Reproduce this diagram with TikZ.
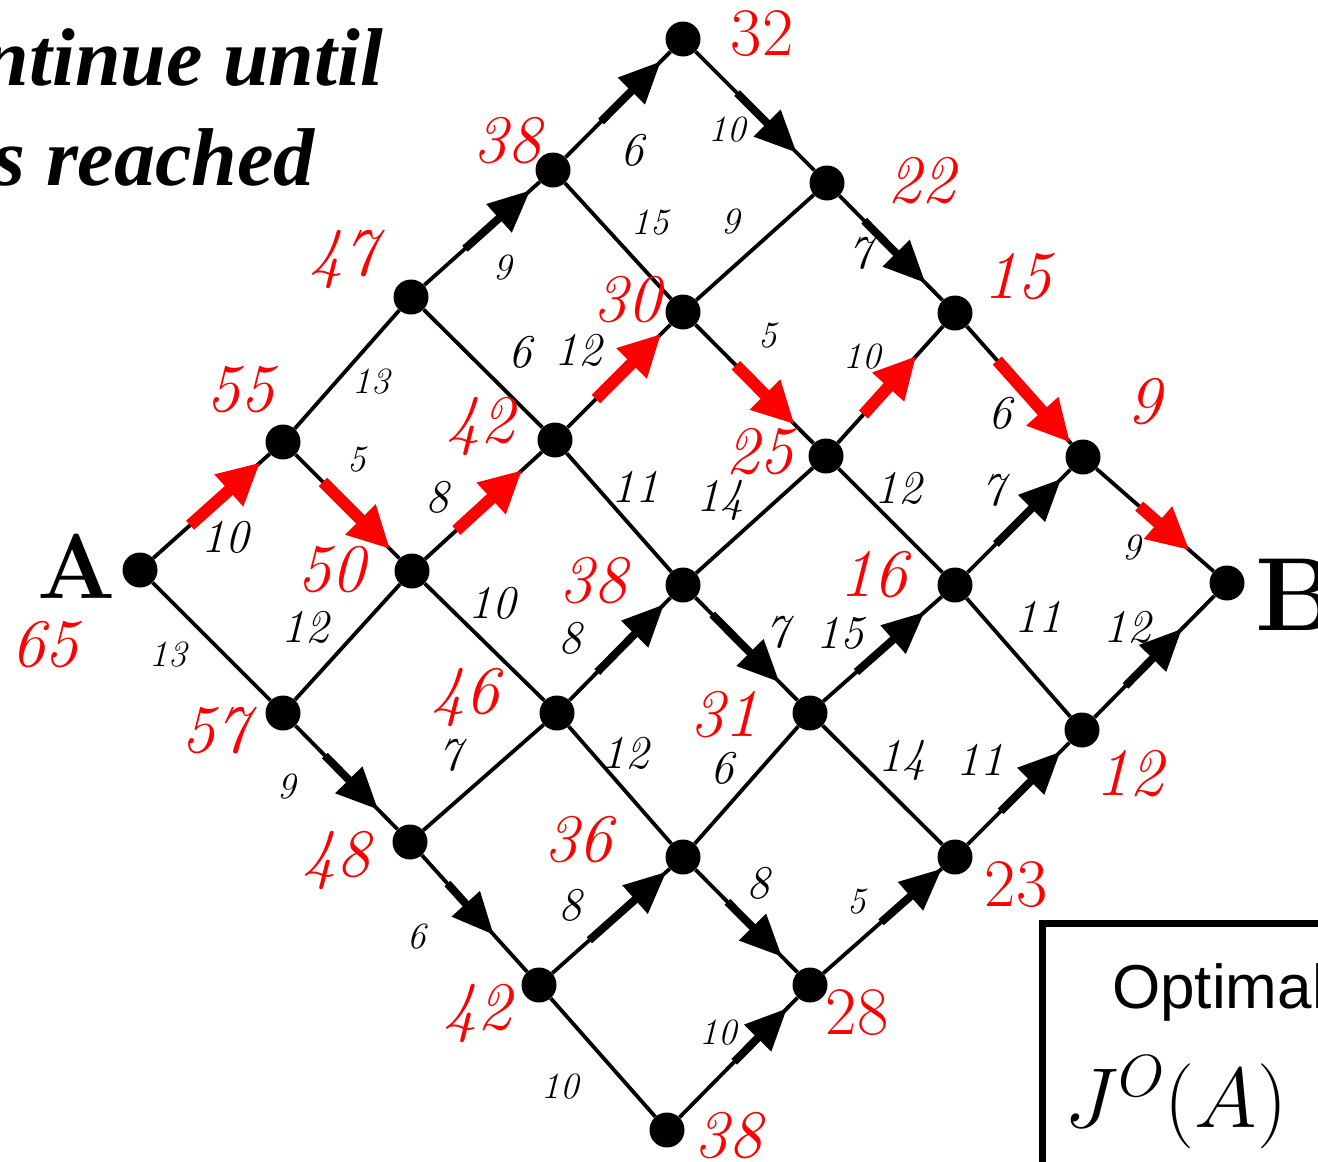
\RequirePackage{fix-cm}
\documentclass[tikz,border=0pt]{standalone}
\usepackage{fontspec}
\usetikzlibrary{calc,arrows.meta}
\newfontfamily\timesf{Liberation Serif}
\newfontfamily\arialf{Liberation Sans}
\tikzset{
 dot/.style={circle,fill=black,inner sep=0pt,minimum size=35pt},
 edge/.style={line width=3.8pt, black},
 rarr/.style={line width=12pt, red, -{Triangle[length=42pt,width=40pt]}},
 barr/.style={line width=8pt, black, -{Triangle[length=42pt,width=36pt]}},
 cost/.style={red, inner sep=0pt, font=\fontsize{68}{70}\selectfont\itshape},
 costup/.style={red, inner sep=0pt, font=\fontsize{68}{70}\selectfont},
 wl/.style={inner sep=0pt, font=\fontsize{47}{50}\selectfont\itshape},
 ws/.style={inner sep=0pt, font=\fontsize{37}{40}\selectfont\itshape},
}
\begin{document}
\begin{tikzpicture}[x=1pt,y=-1pt]
\useasboundingbox (0,0) rectangle (1318,1162);
\clip (0,0) rectangle (1318,1162);
% nodes
\node[dot] (n00) at (140,570) {};
\node[dot] (n10) at (283,442) {};
\node[dot] (n01) at (283,713) {};
\node[dot] (n20) at (411,297) {};
\node[dot] (n11) at (412,571) {};
\node[dot] (n02) at (410,842) {};
\node[dot] (n30) at (553,170) {};
\node[dot] (n21) at (555,440) {};
\node[dot] (n12) at (557,713) {};
\node[dot] (n03) at (539,985) {};
\node[dot] (n40) at (683,39) {};
\node[dot] (n31) at (683,312) {};
\node[dot] (n22) at (683,585) {};
\node[dot] (n13) at (683,857) {};
\node[dot] (n04) at (667,1130) {};
\node[dot] (n41) at (827,183) {};
\node[dot] (n32) at (826,456) {};
\node[dot] (n23) at (810,713) {};
\node[dot] (n14) at (810,985) {};
\node[dot] (n42) at (955,313) {};
\node[dot] (n33) at (955,585) {};
\node[dot] (n24) at (955,857) {};
\node[dot] (n43) at (1083,457) {};
\node[dot] (n34) at (1082,730) {};
\node[dot] (n44) at (1227,583) {};
% edges
\foreach \i in {0,...,3} {
  \foreach \j in {0,...,4} {
    \pgfmathtruncatemacro\k{\i+1}
    \draw[edge] (n\i\j) -- (n\k\j);
    \draw[edge] (n\j\i) -- (n\j\k);
  }
}
% optimal-direction arrows
\foreach \a/\b/\s/\e in {n00/n10/0.35/0.84, n10/n11/0.31/0.83, n11/n21/0.31/0.77,
  n21/n31/0.32/0.83, n31/n32/0.37/0.78, n32/n42/0.29/0.70, n42/n43/0.33/0.90, n43/n44/0.39/0.74}
  \draw[rarr] ($(\a)!\s!(\b)$) -- ($(\a)!\e!(\b)$);
\foreach \a/\b/\s/\e in {n01/n02/0.33/0.75, n02/n03/0.29/0.65, n20/n30/0.38/0.84,
  n30/n40/0.37/0.83, n40/n41/0.375/0.79, n41/n42/0.29/0.77, n12/n22/0.32/0.85,
  n22/n23/0.23/0.76, n23/n33/0.32/0.79, n33/n43/0.32/0.83, n03/n13/0.35/0.885,
  n13/n14/0.35/0.78, n04/n14/0.47/0.84, n14/n24/0.49/0.91, n24/n34/0.36/0.83, n34/n44/0.30/0.69}
  \draw[barr] ($(\a)!\s!(\b)$) -- ($(\a)!\e!(\b)$);
% cost-to-go labels
\node[cost] (c00) at (45,645) {65};
\node[cost] (c10) at (240,390) {55};
\node[cost] (c01) at (215,731) {57};
\node[cost] (c20) at (343,259) {47};
\node[cost] (c11) at (331,570) {50};
\node[cost] (c02) at (336,860) {48};
\node[cost] (c30) at (507,141) {38};
\node[cost] (c21) at (480,426) {42};
\node[cost] (c12) at (465,697) {46};
\node[cost] (c03) at (477,1013) {42};
\node[costup] (c40) at (762,34) {32};
\node[cost] (c31) at (627,300) {30};
\node[cost] (c22) at (593,581) {38};
\node[cost] (c13) at (578,840) {36};
\node[cost] (c04) at (728,1136) {38};
\node[cost] (c41) at (921,181) {22};
\node[cost] (c32) at (759,452) {25};
\node[cost] (c23) at (724,715) {31};
\node[costup] (c14) at (857,1013) {28};
\node[cost] (c42) at (1017,277) {15};
\node[cost] (c33) at (873,575) {16};
\node[costup] (c24) at (1016,885) {23};
\node[cost] (c43) at (1144,402) {9};
\node[cost] (c34) at (1129,774) {12};
% edge weights
\node[wl] (w1) at (225,537) {10};
\node[ws] (w2) at (168,655) {13};
\node[ws] (w3) at (371,382) {13};
\node[ws] (w4) at (357,460) {5};
\node[wl] (w5) at (305,627) {12};
\node[ws] (w6) at (287,787) {9};
\node[ws] (w7) at (503,268) {9};
\node[wl] (w8) at (520,352) {6};
\node[wl] (w9) at (437,497) {8};
\node[wl] (w10) at (492,603) {10};
\node[wl] (w11) at (450,755) {7};
\node[ws] (w12) at (417,937) {6};
\node[wl] (w13) at (632,150) {6};
\node[ws] (w14) at (650,223) {15};
\node[wl] (w15) at (578,350) {12};
\node[wl] (w16) at (635,487) {11};
\node[wl] (w17) at (570,638) {8};
\node[wl] (w18) at (625,753) {12};
\node[wl] (w19) at (570,905) {8};
\node[ws] (w20) at (560,1087) {10};
\node[ws] (w21) at (727,130) {10};
\node[ws] (w22) at (731,222) {9};
\node[ws] (w23) at (768,336) {5};
\node[wl] (w24) at (720,500) {14};
\node[wl] (w25) at (777,632) {7};
\node[wl] (w26) at (722,768) {6};
\node[wl] (w27) at (758,883) {8};
\node[ws] (w28) at (718,1033) {10};
\node[wl] (w29) at (860,253) {7};
\node[ws] (w30) at (862,357) {10};
\node[wl] (w31) at (898,488) {12};
\node[wl] (w32) at (840,633) {15};
\node[wl] (w33) at (902,760) {14};
\node[ws] (w34) at (857,902) {5};
\node[wl] (w35) at (1000,413) {6};
\node[wl] (w36) at (993,490) {7};
\node[wl] (w37) at (1038,617) {11};
\node[wl] (w38) at (980,760) {11};
\node[ws] (w39) at (1132,548) {9};
\node[wl] (w40) at (1127,627) {12};
% end-point letters
\node[anchor=base, inner sep=0pt, font=\bfseries\fontsize{92}{96}\selectfont] (la) at (77,598) {A};
\node[anchor=base west, inner sep=0pt, font=\bfseries\fontsize{104}{110}\selectfont] (lb) at (1255,630) {B};
% title text
\node[anchor=base east, inner sep=0pt, font=\timesf\bfseries\itshape\fontsize{82}{90}\selectfont] (t1) at (383,85) {Continue until};
\node[anchor=base east, inner sep=0pt, font=\timesf\bfseries\itshape\fontsize{82}{90}\selectfont] (t2) at (315,185) {is reached};
% result box
\draw[line width=7pt] (1345,923) -- (1042,923) -- (1042,1190);
\node[anchor=base west, inner sep=0pt, font=\arialf\fontsize{62}{70}\selectfont] (opt) at (1112,1008) {Optimal};
\node[anchor=base west, inner sep=0pt, font=\fontsize{85}{100}\selectfont] (jo) at (1064,1127) {$J^{O}(A)$};
\end{tikzpicture}
\end{document}
